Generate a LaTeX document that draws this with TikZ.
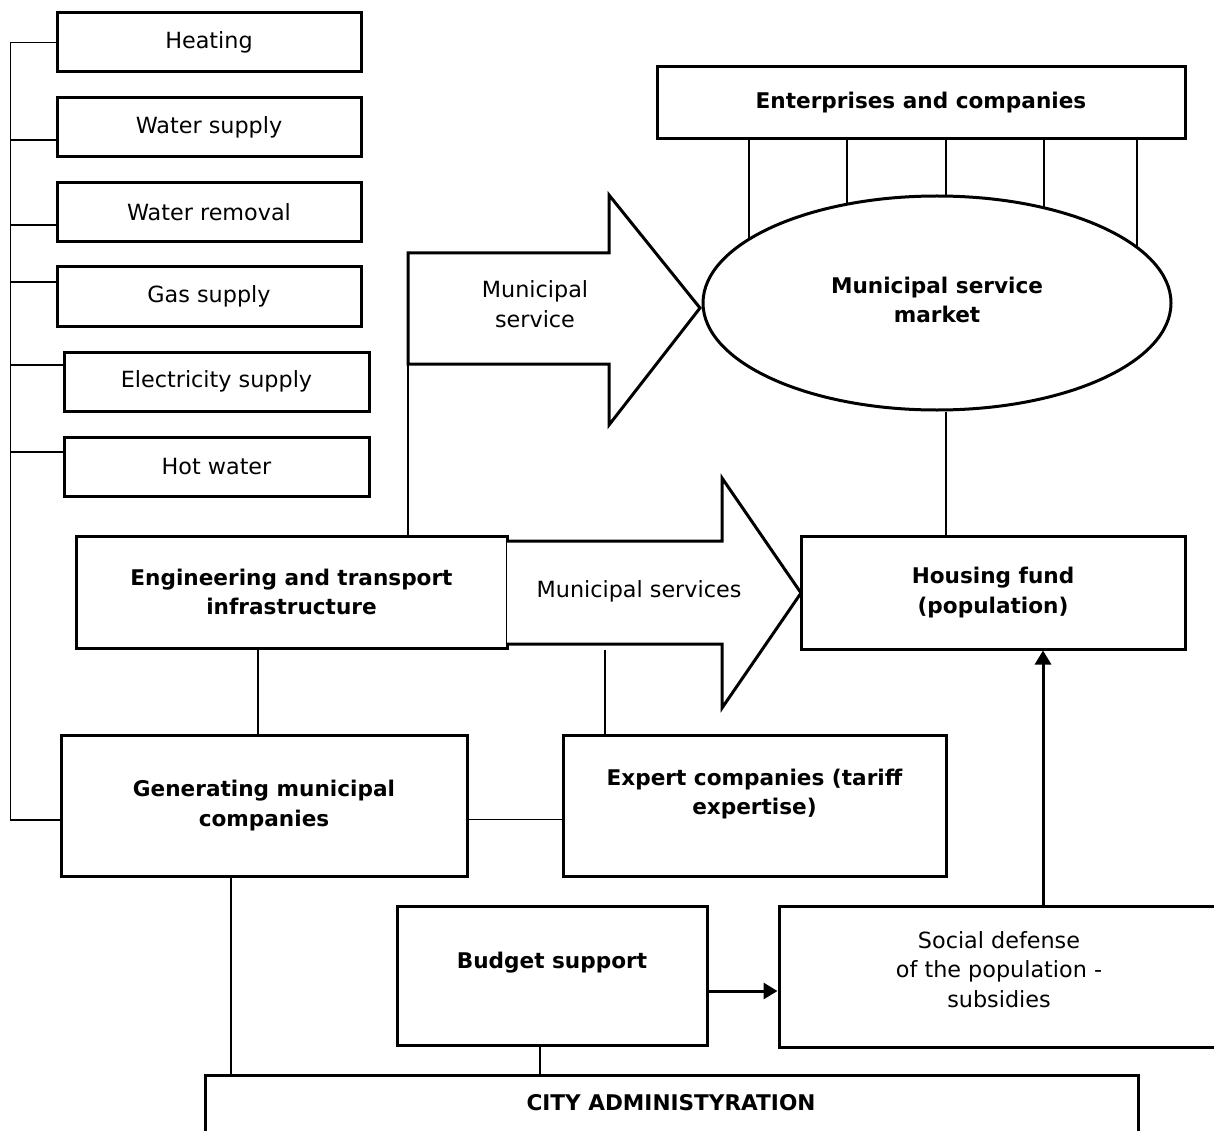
\documentclass[tikz,border=0pt]{standalone}
\usepackage{fontspec}
\setmainfont{DejaVu Sans}
\usetikzlibrary{shapes.geometric,arrows.meta}

\begin{document}
\begin{tikzpicture}[x=1pt,y=-1pt,
  txt/.style={font=\fontsize{22.3}{29.5}\selectfont,align=center,inner sep=0pt},
  btxt/.style={font=\fontsize{21.6}{29.5}\selectfont\bfseries,align=center,inner sep=0pt},
  box/.style={draw,line width=3pt,inner sep=0pt,fill=white,txt},
  bbox/.style={box,btxt},
  link/.style={line width=1.3pt},
  bigarrow/.style={draw,line width=3pt,line join=miter,fill=white},
  push/.style={line width=3pt,-{Triangle[length=14pt,width=16pt]}}
]
\useasboundingbox (0,0) rectangle (1214,1131);

% utility list on the left
\node[box,minimum width=304,minimum height=59] (heat)  at (209,42.5)  {Heating};
\node[box,minimum width=304,minimum height=59] (water) at (209,127.5) {Water supply};
\node[box,minimum width=304,minimum height=59] (remov) at (209,212.5) {Water removal};
\node[box,minimum width=304,minimum height=59] (gas)   at (209,296.5) {Gas supply};
\node[box,minimum width=305,minimum height=59] (elec)  at (216.5,381.5) {Electricity supply};
\node[box,minimum width=305,minimum height=59] (hot)   at (216.5,466.5) {Hot water};

% market and suppliers
\node[bbox,minimum width=528,minimum height=72] (ent) at (921,103) {Enterprises and companies};
\node[draw,line width=3pt,ellipse,minimum width=468,minimum height=214,inner sep=0pt]
  (mkt) at (937,303) {};
\node[btxt] (mktt) at (937,300) {Municipal service\\market};

% main blocks
\node[bbox,minimum width=431,minimum height=112] (eng) at (291.5,592)
  {Engineering and transport\\infrastructure};
\node[bbox,minimum width=384,minimum height=113] (hous) at (993,592.5)
  {Housing fund\\(population)};
\node[bbox,minimum width=406,minimum height=141] (gen) at (264,805.5)
  {Generating municipal\\companies};
\node[box,minimum width=383,minimum height=141] (exp) at (754.5,805.5) {};
\node[btxt] (expt) at (754.5,794) {Expert companies (tariff\\expertise)};
\node[box,minimum width=310,minimum height=139] (bud) at (552,975.5) {};
\node[btxt] (budt) at (552,963) {Budget support};
\node[box,minimum width=439,minimum height=141] (soc) at (998.5,976.5) {};
\node[txt] (soct) at (999,969.5) {Social defense\\of the population -\\subsidies};
\node[box,minimum width=933,minimum height=65] (city) at (671.5,1107.5) {};
\node[btxt] (cityt) at (671,1103) {CITY ADMINISTYRATION};

% block arrows for the service flows
\draw[bigarrow] (408,253) -- (609,253) -- (609,195) -- (700,308) -- (609,425)
  -- (609,364) -- (408,364) -- cycle;
\node[txt] (svct) at (535,304) {Municipal\\service};
\coordinate (svcfoot) at (408,364);

\draw[bigarrow] (507,541) -- (722,541) -- (722,478) -- (801,593) -- (722,708)
  -- (722,644) -- (507,644);
\node[txt] (msvct) at (639,591) {Municipal services};
\coordinate (msfoot) at (605,650);

% bus linking the utilities to the generating companies
\draw[link] ([yshift=-14.5pt]gen.west) -- ++(-49,0) |- (heat.west);
\draw[link] ([yshift=-12.5pt]water.west) -- ++(-45,0);
\draw[link] ([yshift=-12.5pt]remov.west) -- ++(-45,0);
\draw[link] ([yshift=14.5pt]gas.west) -- ++(-45,0);
\draw[link] ([yshift=16.5pt]elec.west) -- ++(-52,0);
\draw[link] ([yshift=14.5pt]hot.west) -- ++(-52,0);

% enterprises feeding the market
\foreach \dx in {-188,-90,9,107,200} {
  \path (mkt.center) ++(\dx,{-107*sqrt(1-(\dx/234)^2)}) coordinate (p);
  \draw[link] (p) -- (p |- ent.south);
}

% plain connectors
\path (mkt.south) ++(9,0) coordinate (mk1);
\draw[link] (mk1) -- (mk1 |- hous.north);
\draw[link] (svcfoot) -- (svcfoot |- eng.north);
\draw[link] (msfoot) -- (msfoot |- exp.north);
\path (eng.south) ++(-33.5,0) coordinate (en1);
\draw[link] (en1) -- (en1 |- gen.north);
\path (gen.east) ++(0,14) coordinate (ge1);
\draw[link] (ge1) -- (ge1 -| exp.west);
\path (gen.south) ++(-33,0) coordinate (gn1);
\draw[link] (gn1) -- (gn1 |- city.north);
\path (bud.south) ++(-12,0) coordinate (bu1);
\draw[link] (bu1) -- (bu1 |- city.north);

% subsidy flows
\path (bud.east) ++(0,15.5) coordinate (ba);
\draw[push] (ba) -- (ba -| soc.west);
\path (soc.north) ++(44.5,0) coordinate (sa);
\draw[push] (sa) -- (sa |- hous.south);
\end{tikzpicture}
\end{document}
